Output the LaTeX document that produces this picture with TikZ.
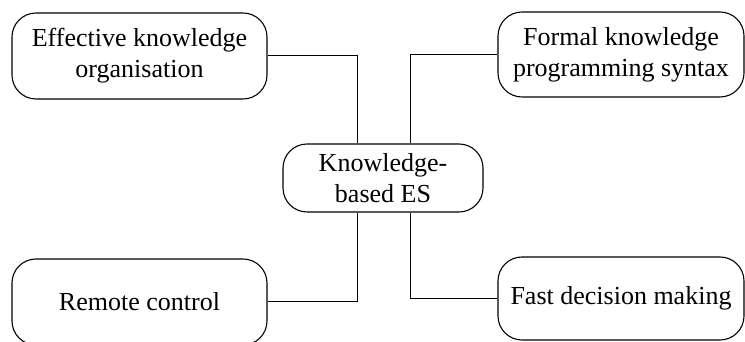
\documentclass[tikz,border=0pt]{standalone}
\usepackage{fontspec}
\setmainfont{Liberation Serif}
\begin{document}
\begin{tikzpicture}[x=1pt,y=1pt,
  topic/.style={draw, line width=1.1pt, rounded corners=24pt, inner sep=0pt,
    align=center, font=\fontsize{26}{31}\selectfont},
  link/.style={draw, line width=1pt}]
\useasboundingbox (0,0) rectangle (745,342);
% outer topics
\node[topic, minimum width=255pt, minimum height=86pt] (org) at (139.5,286) {Effective knowledge\\organisation};
\node[topic, minimum width=246pt, minimum height=85pt] (syn) at (621,287.5) {Formal knowledge\\programming syntax};
\node[topic, minimum width=255pt, minimum height=86pt] (rem) at (139.5,40) {Remote control};
\node[topic, minimum width=246pt, minimum height=83pt] (dec) at (621,43.5) {Fast decision making};
% central topic
\node[topic, minimum width=200pt, minimum height=68pt] (es) at (383,164) {Knowledge-\\based ES};
% connectors
\draw[link] (org.east) -| ([xshift=-26pt]es.north);
\draw[link] (syn.west) -| ([xshift=27pt]es.north);
\draw[link] (rem.east) -| ([xshift=-26pt]es.south);
\draw[link] (dec.west) -| ([xshift=27pt]es.south);
\end{tikzpicture}
\end{document}
